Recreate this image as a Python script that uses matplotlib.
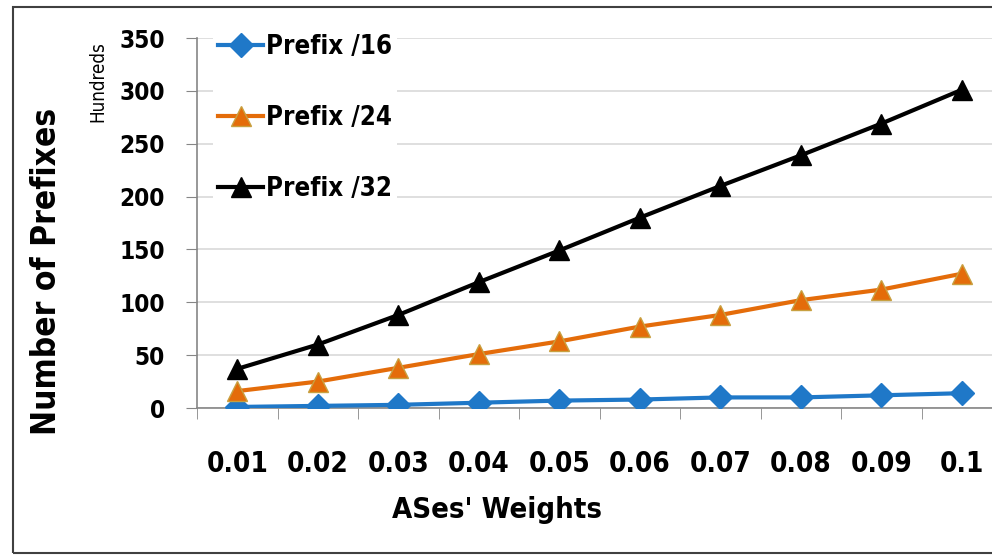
import matplotlib
matplotlib.use("Agg")
import matplotlib.pyplot as plt
from matplotlib.patches import Rectangle

plt.rcParams["font.family"] = ["DejaVu Sans"]
plt.rcParams["font.stretch"] = "condensed"

weights = ["0.01", "0.02", "0.03", "0.04", "0.05", "0.06", "0.07", "0.08", "0.09", "0.1"]
prefix16 = [1, 2, 3, 5, 7, 8, 10, 10, 12, 14]
prefix24 = [16, 25, 38, 51, 63, 77, 88, 102, 112, 127]
prefix32 = [37, 60, 88, 119, 149, 180, 210, 239, 269, 301]
y_ticks = [0, 50, 100, 150, 200, 250, 300, 350]

BLUE = "#1F78C8"
ORANGE = "#E46C0A"
BLACK = "#000000"
GRID = "#D9D9D9"
AXIS = "#868686"

fig = plt.figure(figsize=(9.92, 5.55), dpi=100)
ax = fig.add_axes([197 / 992, 1 - 408 / 555, 805 / 992, 370 / 555])

x = list(range(1, len(weights) + 1))
ax.plot(x, prefix16, color=BLUE, lw=3, marker="D", ms=12,
        label="Prefix /16", zorder=3)
ax.plot(x, prefix24, color=ORANGE, lw=3, marker="^", ms=14,
        mec="#C8A040", mew=1, label="Prefix /24", zorder=3)
ax.plot(x, prefix32, color=BLACK, lw=3, marker="^", ms=14,
        label="Prefix /32", zorder=3)

ax.set_xlim(0.5, len(weights) + 0.5)
ax.set_ylim(0, 350)
ax.set_yticks(y_ticks)
ax.set_yticklabels([str(v) for v in y_ticks])
ax.set_xticks(x)
ax.set_xticklabels(weights)
ax.set_xticks([i + 0.5 for i in range(len(weights) + 1)], minor=True)
ax.tick_params(axis="x", which="major", length=0, pad=30, labelsize=20)
ax.tick_params(axis="x", which="minor", length=8, color=AXIS, direction="out")
ax.tick_params(axis="y", length=8, color=AXIS, pad=15, labelsize=17.5)
for lbl in ax.get_xticklabels() + ax.get_yticklabels():
    lbl.set_fontweight("bold")

ax.grid(axis="y", color=GRID, lw=1.2)
ax.set_axisbelow(True)
for side in ("top", "right"):
    ax.spines[side].set_visible(False)
for side in ("left", "bottom"):
    ax.spines[side].set_color(AXIS)
    ax.spines[side].set_linewidth(1.2)

leg = ax.legend(loc="upper left", bbox_to_anchor=(0.02, 1.025), frameon=True,
                fontsize=18.5, handlelength=1.75, handletextpad=0.1,
                labelspacing=1.75, borderpad=0.2, borderaxespad=0)
leg.get_frame().set_edgecolor("none")
leg.get_frame().set_facecolor("white")
leg.get_frame().set_alpha(1)
for t in leg.get_texts():
    t.set_fontweight("bold")

fig.text(47 / 992, 1 - 271 / 555, "Number of Prefixes", rotation=90,
         ha="center", va="center", fontsize=24, fontweight="bold")
fig.text(98 / 992, 1 - 82 / 555, "Hundreds", rotation=90,
         ha="center", va="center", fontsize=13.5)
fig.text(497 / 992, 1 - 510 / 555, "ASes' Weights",
         ha="center", va="center", fontsize=21, fontweight="bold")

fig.patches.append(Rectangle((13 / 992, 1 - 553 / 555), 1.0, 546 / 555,
                             transform=fig.transFigure, fill=False,
                             edgecolor="#404040", lw=1.5))

fig.savefig("out.png", dpi=100)
